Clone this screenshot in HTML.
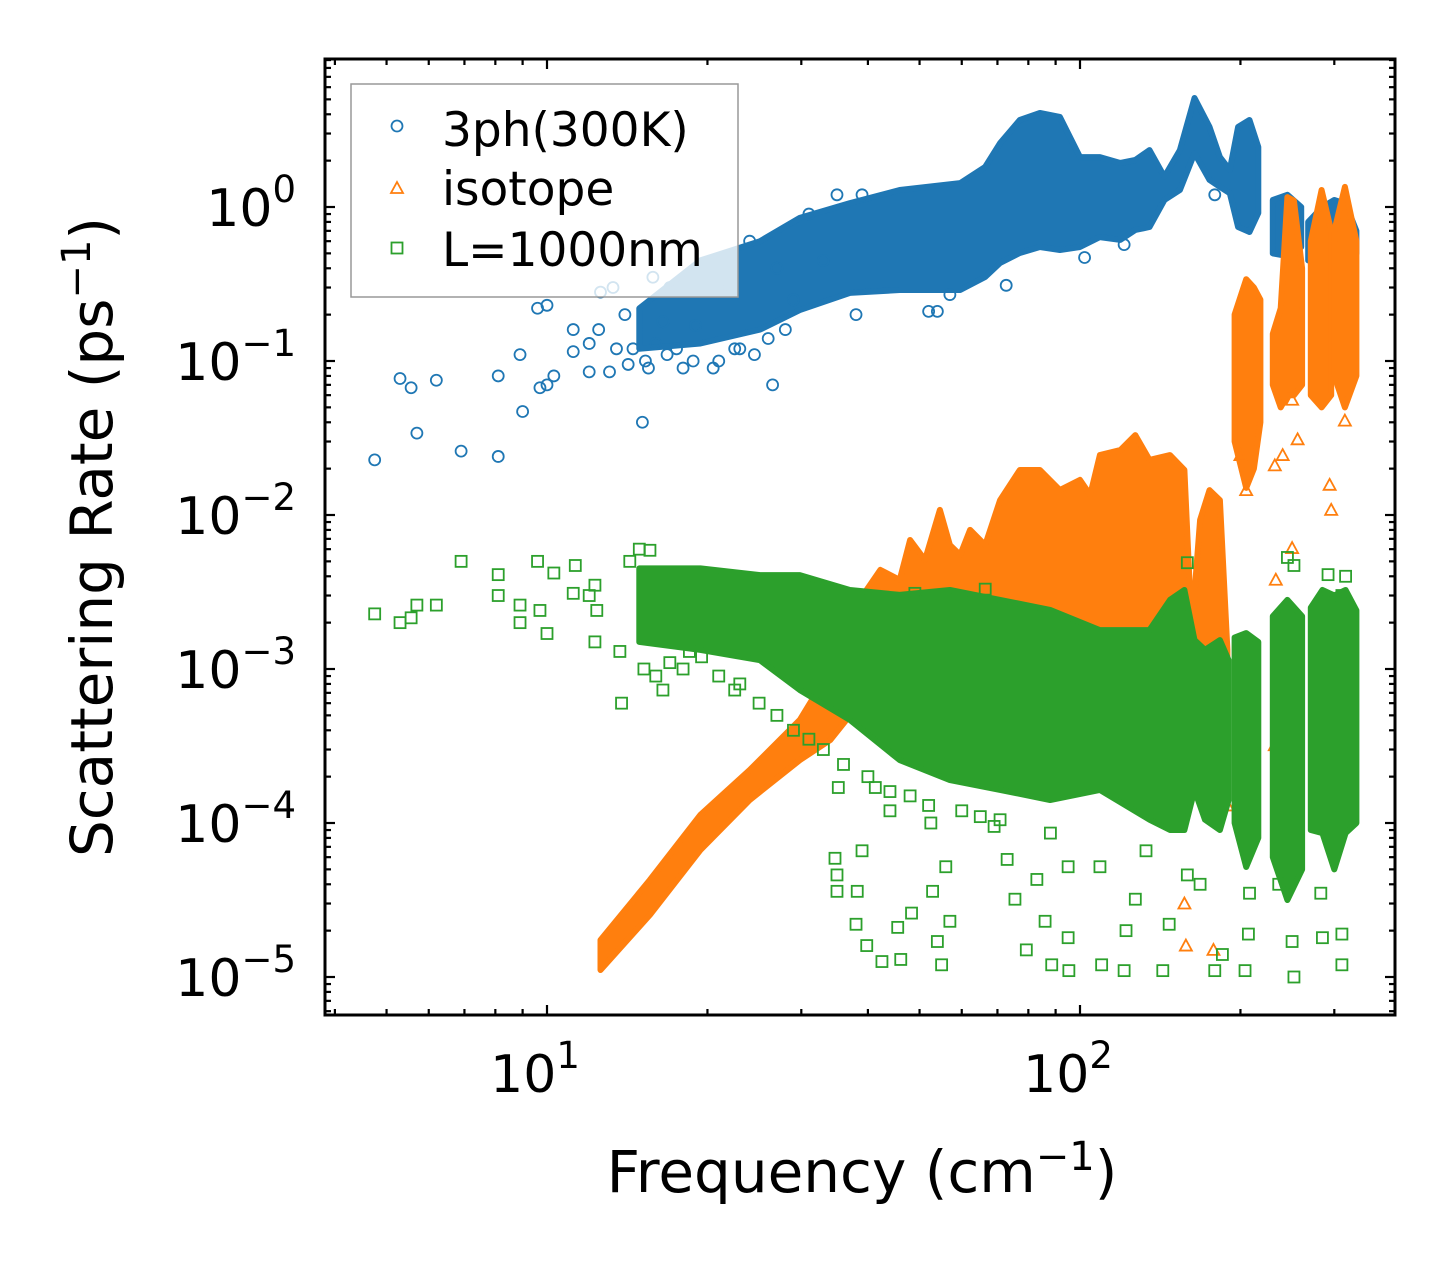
<!DOCTYPE html>
<html><head><meta charset="utf-8"><style>
html,body{margin:0;padding:0;background:#fff;}
svg{display:block;font-family:"DejaVu Sans","Liberation Sans",sans-serif;}
</style></head><body>
<svg id="chart" width="1455" height="1265" viewBox="0 0 1455 1265" xmlns="http://www.w3.org/2000/svg">
<rect x="0" y="0" width="1455" height="1265" fill="#fff"/>
<g id="plot"></g>
<g id="axes"></g>
<g id="legend">
  <rect x="351" y="84" width="387" height="213" fill="rgba(255,255,255,0.8)" stroke="#999" stroke-width="1.5"/>
  <g>
    <circle cx="397" cy="126" r="5.5" fill="none" stroke="#1f77b4" stroke-width="1.8"/>
    <text x="442" y="146" font-size="47" fill="#000">3ph(300K)</text>
  </g>
  <g>
    <polygon points="397,182 403,193 391,193" fill="none" stroke="#ff7f0e" stroke-width="1.8"/>
    <text x="442" y="205" font-size="47" fill="#000">isotope</text>
  </g>
  <g>
    <rect x="391.5" y="242.5" width="11" height="11" fill="none" stroke="#2ca02c" stroke-width="1.8"/>
    <text x="442" y="266" font-size="47" fill="#000">L=1000nm</text>
  </g>
</g>
<text x="862" y="1192" font-size="58" text-anchor="middle" fill="#000">Frequency (cm<tspan font-size="40" dy="-22">−1</tspan><tspan dy="22">)</tspan></text>
<text transform="translate(112,537) rotate(-90)" font-size="58" text-anchor="middle" fill="#000">Scattering Rate (ps<tspan font-size="40" dy="-22">−1</tspan><tspan dy="22">)</tspan></text>
</svg>
<script>
// ---- data (frequency in cm^-1, rate in ps^-1) ----
const blueF1 = [14.9,19.4,25.1,29.8,37.0,45.9,59.6,66.4,70.8,77.1,84.1,91.7,100,109,119,127,135,144,154,164,175,183,191,198,208,216];
const blueHi1 = [0.22,0.45,0.6,0.85,1.06,1.29,1.43,1.82,2.60,3.67,4.08,3.84,2.11,2.11,1.93,2.02,2.34,1.57,2.34,5.10,3.31,2.11,1.74,3.31,3.67,2.45];
const blueLo1 = [0.12,0.13,0.16,0.214,0.277,0.289,0.289,0.351,0.433,0.503,0.550,0.526,0.550,0.638,0.611,0.709,0.741,1.11,1.29,2.24,1.50,1.35,1.23,0.741,0.688,0.914];
const blueF2 = [230,245,260];
const blueHi2 = [1.11,1.2,1.0];
const blueLo2 = [0.5,0.48,0.55];
const blueF3 = [268,285,300,315,330];
const blueHi3 = [0.8,1.0,1.11,1.05,0.7];
const blueLo3 = [0.45,0.42,0.41,0.43,0.5];
const blueScatF = [4.75,5.3,5.56,5.7,6.2,6.9,8.1,8.1,8.9,9.0,9.6,9.7,10,10,10.3,11.2,11.2,12.0,12.5,13.1,13.5,14.0,14.5,15.1,15.5,16.0,17,18,26.5,27,12.6,13.3,15.8,21,23,24,29,31,35,39,33,38,52,57,72.7,54,179,102,121,12,16.5,19,22,14.2,15.3,16.8,17.5,18.8,20.5,22.5,24.5,26,28];
const blueScatV = [0.0228,0.077,0.067,0.034,0.075,0.026,0.08,0.024,0.11,0.047,0.22,0.067,0.07,0.23,0.08,0.16,0.115,0.085,0.16,0.085,0.12,0.2,0.12,0.04,0.09,0.13,0.3,0.09,0.07,0.4,0.28,0.3,0.35,0.1,0.12,0.6,0.25,0.9,1.2,1.2,0.45,0.2,0.21,0.27,0.31,0.21,1.2,0.47,0.57,0.13,0.18,0.17,0.3,0.095,0.1,0.11,0.12,0.1,0.09,0.12,0.11,0.14,0.16];

const orangeF1 = [12.6,15.6,19.4,24.0,29.8,34.0,38.6,42.2,45.9,48.0,51.2,54.6,57.0,59.6,62.2,66.4,70.8,77.1,84.1,91.7,100,104.5,109,119,127,135,147.5,157,162,168,175,183,189];
const orangeHi1 = [1.74e-5,4.27e-5,1.13e-4,2.21e-4,4.67e-4,9.86e-4,2.81e-3,4.40e-3,3.79e-3,6.88e-3,5.10e-3,0.0108,6.38e-3,5.50e-3,8.0e-3,6.38e-3,0.0125,0.0196,0.0196,0.0145,0.0169,0.0135,0.0245,0.0264,0.033,0.0228,0.0245,0.0196,1.79e-3,9.3e-3,0.0145,0.0125,1.33e-3];
const orangeLo1 = [1.11e-5,2.53e-5,6.68e-5,1.41e-4,2.56e-4,3.46e-4,6e-4,6e-4,6e-4,6e-4,6e-4,6e-4,6e-4,6e-4,6e-4,6e-4,6e-4,6e-4,6e-4,6e-4,6e-4,6e-4,6e-4,6e-4,6e-4,6e-4,6e-4,6e-4,1.2e-3,7e-4,6e-4,6e-4,5e-4];
const orangeF2 = [195,205,212,218];
const orangeHi2 = [0.2,0.34,0.30,0.25];
const orangeLo2 = [0.03,0.015,0.02,0.04];
const orangeF3 = [230,238,245,252,261];
const orangeHi3 = [0.15,0.22,1.16,1.1,0.4];
const orangeLo3 = [0.07,0.05,0.06,0.06,0.07];
const orangeF4 = [271,284,296];
const orangeHi4 = [0.6,1.29,0.7];
const orangeLo4 = [0.06,0.05,0.06];
const orangeF5 = [300,314,330];
const orangeHi5 = [0.7,1.35,0.6];
const orangeLo5 = [0.08,0.05,0.08];
const orangeScatF = [200,205,232,240,250,256,294,296,314,233,250,189,157,158,178,232,236,314];
const orangeScatV = [0.0245,0.0145,0.021,0.0245,0.056,0.031,0.0157,0.0108,0.041,0.0038,0.0061,1.3e-4,3.0e-5,1.6e-5,1.5e-5,3.2e-4,8.4e-5,3.2e-4];

const greenF1 = [14.9,19.4,25.1,29.8,37.0,45.9,57.0,70.8,87.9,109,135,147.5,157,164,171.6,183,190];
const greenHi1 = [4.5e-3,4.5e-3,4.07e-3,4.07e-3,3.26e-3,3.03e-3,3.26e-3,2.81e-3,2.42e-3,1.79e-3,1.79e-3,2.81e-3,3.26e-3,1.54e-3,1.33e-3,1.54e-3,1.14e-3];
const greenLo1 = [1.5e-3,1.33e-3,1.14e-3,7.31e-4,4.67e-4,2.56e-4,1.90e-4,1.64e-4,1.41e-4,1.64e-4,1.05e-4,9.0e-5,9.0e-5,1.64e-4,1.05e-4,9.0e-5,1.41e-4];
const greenF2 = [195,205,216];
const greenHi2 = [1.6e-3,1.71e-3,1.5e-3];
const greenLo2 = [1.0e-4,5.18e-5,8e-5];
const greenF3 = [230,245,261];
const greenHi3 = [2.2e-3,2.81e-3,2.2e-3];
const greenLo3 = [6e-5,3.16e-5,5e-5];
const greenF4 = [271,285,300,315,330];
const greenHi4 = [2.5e-3,3.26e-3,3.0e-3,3.26e-3,2.4e-3];
const greenLo4 = [9e-5,8.6e-5,5e-5,8.6e-5,1.0e-4];
const greenScatF = [4.75,5.3,5.56,5.7,6.2,6.9,8.1,8.1,8.9,8.9,9.6,9.7,10,10.3,11.3,11.2,12.0,12.3,12.4,12.3,13.8,13.7,14.3,14.9,15.6,16.5,18.5,22.5,
 34.7,35,35,38.2,38,39.8,42.5,46.1,45.5,48.3,52.9,54,55,57,35.2,41.3,39,56,79.3,88.5,95.3,109.8,121,143,179,204,252,310,95,122,147,185,207,250,285,73,83,95,109,75.5,86,127,159,168,208,236,283,310,69,70.8,52.5,44,88,133,159,245,292,315,310,252,66.4,49,
 15.2,16,17,18,19.5,21,23,25,27,29,31,33,36,40,44,48,52,60,65];
const greenScatV = [2.28e-3,2.0e-3,2.15e-3,2.6e-3,2.6e-3,5.0e-3,4.1e-3,3.0e-3,2.6e-3,2.0e-3,5.0e-3,2.4e-3,1.7e-3,4.2e-3,4.7e-3,3.1e-3,3.0e-3,3.5e-3,2.4e-3,1.5e-3,6.0e-4,1.3e-3,5.0e-3,6e-3,5.9e-3,7.3e-4,1.3e-3,7.3e-4,
 5.9e-5,4.6e-5,3.6e-5,3.6e-5,2.2e-5,1.6e-5,1.26e-5,1.3e-5,2.1e-5,2.6e-5,3.6e-5,1.7e-5,1.2e-5,2.3e-5,1.7e-4,1.7e-4,6.6e-5,5.2e-5,1.5e-5,1.2e-5,1.1e-5,1.2e-5,1.1e-5,1.1e-5,1.1e-5,1.1e-5,1.0e-5,1.2e-5,1.8e-5,2.0e-5,2.2e-5,1.4e-5,1.9e-5,1.7e-5,1.8e-5,5.8e-5,4.3e-5,5.2e-5,5.2e-5,3.2e-5,2.3e-5,3.2e-5,4.6e-5,4e-5,3.5e-5,4e-5,3.5e-5,1.9e-5,9.5e-5,1.05e-4,1e-4,1.2e-4,8.6e-5,6.6e-5,4.9e-3,5.3e-3,4.1e-3,4e-3,3e-3,4.7e-3,3.3e-3,3.1e-3,
 1e-3,9e-4,1.1e-3,1e-3,1.2e-3,9e-4,8e-4,6e-4,5e-4,4e-4,3.5e-4,3e-4,2.4e-4,2e-4,1.6e-4,1.5e-4,1.3e-4,1.2e-4,1.1e-4];

const xMajorTicks = [10,100];
const xMajorLabels = ["1","2"];
const yMajorTicks = [1e-5,1e-4,1e-3,1e-2,1e-1,1];
const yMajorLabels = ["−5","−4","−3","−2","−1","0"];

// ---- axis functions ----
const X0 = 325, X1 = 1395, Y0 = 59, Y1 = 1015;
function xs(f){ return 547 + 533*(Math.log10(f) - 1); }
function ys(v){ return 207 - 154*Math.log10(v); }

const NS = "http://www.w3.org/2000/svg";
const plot = document.getElementById('plot');
const axes = document.getElementById('axes');
function mk(tag, attrs, parent){
  const e = document.createElementNS(NS, tag);
  for (const k in attrs) e.setAttribute(k, attrs[k]);
  parent.appendChild(e);
  return e;
}
const clip = mk('clipPath', {id:'clipPlot'}, plot);
mk('rect', {x:X0, y:Y0, width:X1-X0, height:Y1-Y0}, clip);
plot.setAttribute('clip-path', 'url(#clipPlot)');

function band(F, H, L, color, name){
  const pts = [];
  for (let i=0;i<F.length;i++) pts.push(xs(F[i]).toFixed(1)+','+ys(H[i]).toFixed(1));
  for (let i=F.length-1;i>=0;i--) pts.push(xs(F[i]).toFixed(1)+','+ys(L[i]).toFixed(1));
  const p = mk('polygon', {points:pts.join(' '), fill:color, stroke:color, 'stroke-width':6, 'stroke-linejoin':'round'}, plot);
  
  
}
function scatter(F, V, kind, color, name){
  for (let i=0;i<F.length;i++){
    const x = xs(F[i]), y = ys(V[i]);
    let e;
    if (kind==='circle') e = mk('circle', {cx:x, cy:y, r:5.5}, plot);
    else if (kind==='square') e = mk('rect', {x:x-5.5, y:y-5.5, width:11, height:11}, plot);
    else e = mk('polygon', {points:`${x},${y-6} ${x+6},${y+5} ${x-6},${y+5}`}, plot);
    e.setAttribute('fill','none');
    e.setAttribute('stroke',color);
    e.setAttribute('stroke-width','1.8');
    
    
  }
}
const CB='#1f77b4', CO='#ff7f0e', CG='#2ca02c';
band(blueF1, blueHi1, blueLo1, CB, 'band-3ph-main');
band(blueF2, blueHi2, blueLo2, CB, 'band-3ph-240');
band(blueF3, blueHi3, blueLo3, CB, 'band-3ph-300');
scatter(blueScatF, blueScatV, 'circle', CB, 'point-3ph');
band(orangeF1, orangeHi1, orangeLo1, CO, 'band-isotope-main');
band(orangeF2, orangeHi2, orangeLo2, CO, 'band-isotope-205');
band(orangeF3, orangeHi3, orangeLo3, CO, 'band-isotope-245');
band(orangeF4, orangeHi4, orangeLo4, CO, 'band-isotope-285');
band(orangeF5, orangeHi5, orangeLo5, CO, 'band-isotope-315');
scatter(orangeScatF, orangeScatV, 'tri', CO, 'point-isotope');
band(greenF1, greenHi1, greenLo1, CG, 'band-l1000nm-main');
band(greenF2, greenHi2, greenLo2, CG, 'band-l1000nm-205');
band(greenF3, greenHi3, greenLo3, CG, 'band-l1000nm-245');
band(greenF4, greenHi4, greenLo4, CG, 'band-l1000nm-300');
scatter(greenScatF, greenScatV, 'square', CG, 'point-l1000nm');

// ---- axes ----
const frame = mk('rect', {x:X0, y:Y0, width:X1-X0, height:Y1-Y0, fill:'none', stroke:'#000', 'stroke-width':3}, axes);


function tick(x1,y1,x2,y2,w,name){
  const l = mk('line', {x1:x1,y1:y1,x2:x2,y2:y2,stroke:'#000','stroke-width':w}, axes);
  
  
}
for (let d=1; d<=100; d*=10){
  for (let m=1; m<=9; m++){
    const f = m*d, x = xs(f);
    if (x < X0+1 || x > X1-1) continue;
    const major = (m===1);
    const len = major ? 10 : 6;
    tick(x, Y1, x, Y1-len, 2.2, major?'x-major-tick':'x-minor-tick');
    tick(x, Y0, x, Y0+len, 2.2, major?'x-major-tick-top':'x-minor-tick-top');
  }
}
for (let e=-6; e<=0; e++){
  for (let m=1; m<=9; m++){
    const v = m*Math.pow(10,e), y = ys(v);
    if (y < Y0+1 || y > Y1-1) continue;
    const major = (m===1);
    const len = major ? 10 : 6;
    tick(X0, y, X0+len, y, 2.2, major?'y-major-tick':'y-minor-tick');
    tick(X1, y, X1-len, y, 2.2, major?'y-major-tick-right':'y-minor-tick-right');
  }
}
for (let i=0;i<xMajorTicks.length;i++){
  const t = mk('text', {x:xs(xMajorTicks[i]) - 12, y:1092, 'font-size':52, 'text-anchor':'middle', fill:'#000'}, axes);
  
  
  t.textContent = '10';
  const s = mk('tspan', {'font-size':37, dy:-24}, t);
  s.textContent = xMajorLabels[i];
}
for (let i=0;i<yMajorTicks.length;i++){
  const t = mk('text', {x:296, y:ys(yMajorTicks[i]) + 19, 'font-size':52, 'text-anchor':'end', fill:'#000'}, axes);
  
  
  t.textContent = '10';
  const s = mk('tspan', {'font-size':37, dy:-24}, t);
  s.textContent = yMajorLabels[i];
}
</script>
</body></html>
